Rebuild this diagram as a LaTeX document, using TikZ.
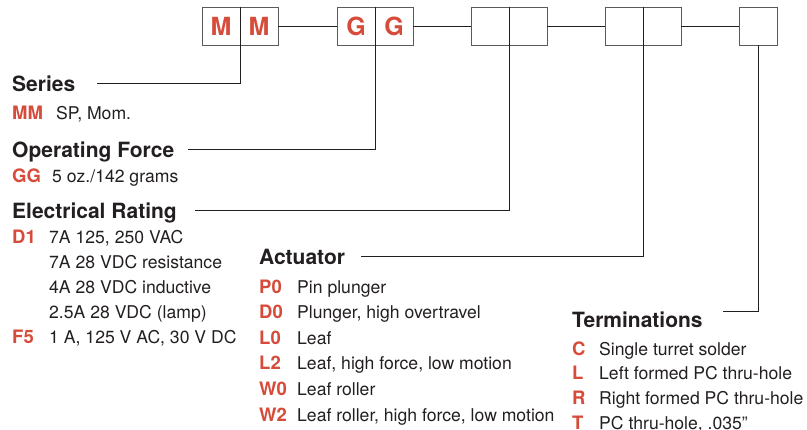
\documentclass[tikz,border=0pt]{standalone}
\usepackage{fontspec}
\setmainfont{TeX Gyre Heros}
\usepackage{tikz}
\usetikzlibrary{positioning}
\definecolor{codered}{HTML}{D64B3A}
\definecolor{ink}{HTML}{231F20}
\definecolor{rulegray}{HTML}{5A5A5A}

\begin{document}
\begin{tikzpicture}[
    x=1pt, y=-1pt,
    cell/.style={draw=rulegray, line width=0.9pt, minimum width=38pt,
        minimum height=38pt, inner sep=0pt, text=codered,
        font=\fontsize{25}{27}\selectfont\bfseries},
    hdr/.style={anchor=base west, inner sep=0pt, text depth=0pt, text=ink,
        font=\fontsize{21}{24}\selectfont\bfseries},
    code/.style={anchor=base west, inner sep=0pt, text=codered,
        font=\fontsize{18.5}{21}\selectfont\bfseries},
    desc/.style={anchor=base west, inner sep=0pt, text=ink,
        font=\fontsize{17.6}{20}\selectfont},
    lead/.style={draw=ink, line width=0.8pt},
    divider/.style={draw=ink, line width=1.3pt}
]
\useasboundingbox (0,0) rectangle (807,429);

% part number boxes
\node[cell] (m1) at (221,26) {M};
\node[cell] (m2) at (259,26) {M};
\node[cell] (g1) at (356,26) {G};
\node[cell] (g2) at (394,26) {G};
\node[cell] (e1) at (490,26) {};
\node[cell] (e2) at (528,26) {};
\node[cell] (a1) at (624,26) {};
\node[cell] (a2) at (662,26) {};
\node[cell] (t1) at (758,26) {};

\foreach \b in {m1, g1, e1, a1}
    \draw[divider] (\b.north east) -- (\b.south east);

\draw[lead] (m2.east) -- (g1.west);
\draw[lead] (g2.east) -- (e1.west);
\draw[lead] (e2.east) -- (a1.west);
\draw[lead] (a2.east) -- (t1.west);

% series
\node[hdr] (series) at (12,91) {Series};
\node[code] (mm) at (12,119) {MM};
\node[desc] (mmd) at (56,119) {SP, Mom.};

% operating force
\node[hdr] (force) at (12,157) {Operating Force};
\node[code] (gg) at (12,182) {GG};
\node[desc] (ggd) at (52,182) {5 oz./142 grams};

% electrical rating
\node[hdr] (elec) at (12,218) {Electrical Rating};
\node[code] (d1) at (12,243) {D1};
\foreach \d [count=\i from 0] in {{7A 125, 250 VAC}, {7A 28 VDC resistance},
        {4A 28 VDC inductive}, {2.5A 28 VDC (lamp)}}
    \node[desc] (d1d\i) at (49,243+25*\i) {\d};
\node[code] (f5) at (12,343) {F5};
\node[desc] (f5d) at (49,343) {1 A, 125 V AC, 30 V DC};

% actuator
\node[hdr] (act) at (259,264) {Actuator};
\foreach \c/\d [count=\i from 0] in {P0/Pin plunger, D0/{Plunger, high overtravel},
        L0/Leaf, L2/{Leaf, high force, low motion}, W0/Leaf roller,
        W2/{Leaf roller, high force, low motion}} {
    \node[code] (act\i) at (259,293+25.6*\i) {\c};
    \node[desc] (actd\i) at (297,293+25.6*\i) {\d};
}

% terminations
\node[hdr] (term) at (572,327) {Terminations};
\foreach \c/\d [count=\i from 0] in {C/Single turret solder, L/Left formed PC thru-hole,
        R/Right formed PC thru-hole, T/{PC thru-hole, .035”}} {
    \node[code] (trm\i) at (572,355+24.8*\i) {\c};
    \node[desc] (trmd\i) at (599,355+24.8*\i) {\d};
}

% leader lines
\draw[lead] (m1.south east) |- ([xshift=22pt]series.east);
\draw[lead] (g1.south east) |- ([xshift=14pt]force.east);
\draw[lead] (e1.south east) |- ([xshift=18pt]elec.east);
\draw[lead] (a1.south east) |- ([xshift=16pt]act.east);
\draw[lead] (t1.south) |- ([xshift=20pt]term.north east);
\end{tikzpicture}
\end{document}
